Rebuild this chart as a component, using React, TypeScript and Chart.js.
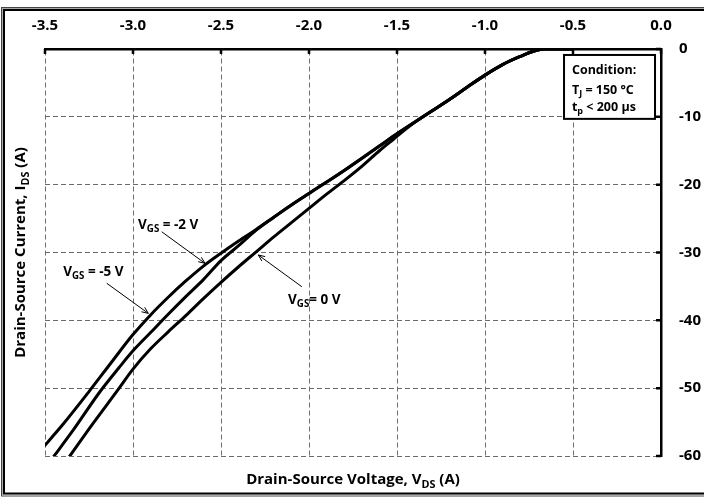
import React, { useEffect, useRef } from "react";
import { Chart, registerables } from "chart.js";

Chart.register(...registerables);

const FONT = '"Open Sans", "Liberation Sans", sans-serif';

// ---- axis ticks ----
const xTickValues = [-3.5, -3.0, -2.5, -2.0, -1.5, -1.0, -0.5, 0.0];
const yTickValues = [0, -10, -20, -30, -40, -50, -60];

// ---- series: V_GS = -5 V ----
const vgsM5X = [-3.52, -3.4, -3.25, -3.12, -3.0, -2.9, -2.8, -2.7, -2.6, -2.5, -2.4, -2.3, -2.2, -2.1, -2.0, -1.8, -1.6, -1.5, -1.4, -1.3, -1.2, -1.1, -1.0, -0.9, -0.8, -0.72, -0.66, -0.5];
const vgsM5Y = [-59.0, -55.4, -50.5, -46.1, -42.1, -39.2, -36.6, -34.2, -32.0, -30.1, -28.3, -26.6, -24.8, -23.0, -21.3, -17.9, -14.3, -12.5, -10.8, -9.1, -7.4, -5.6, -3.85, -2.3, -1.1, -0.3, 0, 0];

// ---- series: V_GS = -2 V ----
const vgsM2X = [-3.46, -3.34, -3.19, -3.08, -3.0, -2.9, -2.8, -2.7, -2.6, -2.5, -2.4, -2.3, -2.2, -2.1, -2.0, -1.8, -1.6, -1.5, -1.4, -1.3, -1.2, -1.1, -1.0, -0.9, -0.8, -0.72, -0.66, -0.5];
const vgsM2Y = [-60.4, -56.2, -50.6, -47.0, -44.5, -41.8, -39.1, -36.5, -34.0, -31.2, -29.0, -26.7, -24.8, -23.0, -21.3, -17.9, -14.3, -12.5, -10.8, -9.1, -7.4, -5.6, -3.85, -2.3, -1.1, -0.3, 0, 0];

// ---- series: V_GS = 0 V ----
const vgs0X = [-3.37, -3.23, -3.09, -3.0, -2.9, -2.8, -2.7, -2.6, -2.5, -2.4, -2.3, -2.2, -2.1, -2.0, -1.9, -1.8, -1.7, -1.6, -1.52, -1.45, -1.4, -1.3, -1.2, -1.1, -1.0, -0.9, -0.8, -0.72, -0.66, -0.5];
const vgs0Y = [-60.4, -55.3, -50.4, -47.2, -44.2, -41.7, -39.3, -36.8, -34.4, -32.1, -29.9, -27.7, -25.6, -23.5, -21.4, -19.4, -17.3, -15.0, -13.3, -11.8, -10.8, -9.1, -7.4, -5.6, -3.85, -2.3, -1.1, -0.3, 0, 0];

// ---- annotations (data coordinates) ----
const labelTexts = [
  { main: "V", sub: "GS", rest: " = -2 V" },
  { main: "V", sub: "GS", rest: " = -5 V" },
  { main: "V", sub: "GS", rest: "= 0 V" },
];
const labelX = [-2.8, -3.225, -1.97];
const labelY = [-25.95, -32.9, -37.0];
const arrowFromX = [-2.837, -3.149, -2.041];
const arrowFromY = [-26.94, -34.54, -35.04];
const arrowToX = [-2.591, -2.913, -2.288];
const arrowToY = [-31.59, -38.97, -30.37];

const boxX = [-0.551, -0.034];
const boxY = [-0.88, -10.3];
const boxTextX = -0.506;
const boxLineY = [-3.1, -6.04, -8.65];

const xTitle = { main: "Drain-Source Voltage, V", sub: "DS", rest: " (A)" };
const yTitle = { main: "Drain-Source Current, I", sub: "DS", rest: " (A)" };

type Runs = { main: string; sub: string; rest: string };

function zip(xs: number[], ys: number[]) {
  return xs.map((x, i) => ({ x, y: ys[i] }));
}

function drawRuns(ctx: CanvasRenderingContext2D, r: Runs, x: number, y: number, size: number, align: "left" | "center") {
  const subSize = size * 0.72;
  const parts: [string, boolean][] = [
    [r.main, false],
    [r.sub, true],
    [r.rest, false],
  ];
  let w = 0;
  for (const [t, s] of parts) {
    ctx.font = `bold ${s ? subSize : size}px ${FONT}`;
    w += ctx.measureText(t).width;
  }
  let cx = align === "center" ? x - w / 2 : x;
  ctx.textAlign = "left";
  ctx.textBaseline = "middle";
  ctx.fillStyle = "#000";
  for (const [t, s] of parts) {
    ctx.font = `bold ${s ? subSize : size}px ${FONT}`;
    ctx.fillText(t, cx, y + (s ? size * 0.3 : 0));
    cx += ctx.measureText(t).width;
  }
}

const decorPlugin = {
  id: "decor",
  afterDraw(chart: any) {
    const ctx: CanvasRenderingContext2D = chart.ctx;
    const xs = chart.scales.x;
    const ys = chart.scales.y;
    const ca = chart.chartArea;
    ctx.save();

    // inward tick marks
    ctx.strokeStyle = "#000";
    ctx.lineWidth = 2.5;
    ctx.beginPath();
    for (const v of xTickValues) {
      const px = xs.getPixelForValue(v);
      ctx.moveTo(px, ca.top);
      ctx.lineTo(px, ca.top + 5);
    }
    for (const v of yTickValues) {
      const py = ys.getPixelForValue(v);
      ctx.moveTo(ca.right, py);
      ctx.lineTo(ca.right - 5, py);
    }
    ctx.stroke();

    // arrows
    ctx.lineWidth = 1;
    ctx.strokeStyle = "#000";
    for (let i = 0; i < arrowFromX.length; i++) {
      const x1 = xs.getPixelForValue(arrowFromX[i]);
      const y1 = ys.getPixelForValue(arrowFromY[i]);
      const x2 = xs.getPixelForValue(arrowToX[i]);
      const y2 = ys.getPixelForValue(arrowToY[i]);
      const a = Math.atan2(y2 - y1, x2 - x1);
      ctx.beginPath();
      ctx.moveTo(x1, y1);
      ctx.lineTo(x2, y2);
      ctx.moveTo(x2 - 7 * Math.cos(a - 0.4), y2 - 7 * Math.sin(a - 0.4));
      ctx.lineTo(x2, y2);
      ctx.lineTo(x2 - 7 * Math.cos(a + 0.4), y2 - 7 * Math.sin(a + 0.4));
      ctx.stroke();
    }

    // labels
    for (let i = 0; i < labelTexts.length; i++) {
      drawRuns(ctx, labelTexts[i], xs.getPixelForValue(labelX[i]), ys.getPixelForValue(labelY[i]), 13.5, "center");
    }

    // condition box
    const bx1 = xs.getPixelForValue(boxX[0]);
    const bx2 = xs.getPixelForValue(boxX[1]);
    const by1 = ys.getPixelForValue(boxY[0]);
    const by2 = ys.getPixelForValue(boxY[1]);
    ctx.fillStyle = "#fff";
    ctx.fillRect(bx1, by1, bx2 - bx1, by2 - by1);
    ctx.lineWidth = 2;
    ctx.strokeStyle = "#000";
    ctx.strokeRect(bx1, by1, bx2 - bx1, by2 - by1);
    const tx = xs.getPixelForValue(boxTextX);
    ctx.fillStyle = "#000";
    ctx.font = `bold 12.5px ${FONT}`;
    ctx.textAlign = "left";
    ctx.textBaseline = "middle";
    ctx.fillText("Condition:", tx, ys.getPixelForValue(boxLineY[0]));
    drawRuns(ctx, { main: "T", sub: "J", rest: " = 150 °C" }, tx, ys.getPixelForValue(boxLineY[1]), 12.5, "left");
    drawRuns(ctx, { main: "t", sub: "p", rest: " < 200 µs" }, tx, ys.getPixelForValue(boxLineY[2]), 12.5, "left");

    // axis titles
    drawRuns(ctx, xTitle, (ca.left + ca.right) / 2, ca.bottom + 24, 15, "center");
    ctx.save();
    ctx.translate(ca.left - 24, (ca.top + ca.bottom) / 2);
    ctx.rotate(-Math.PI / 2);
    drawRuns(ctx, yTitle, 0, 0, 15, "center");
    ctx.restore();

    // outer frame
    const W = chart.width;
    const H = chart.height;
    ctx.lineWidth = 1;
    ctx.strokeStyle = "#444";
    ctx.strokeRect(1.5, 7.5, W + 10, H - 8.5);
    ctx.strokeStyle = "#aaa";
    ctx.strokeRect(2.5, 8.5, W + 10, H - 10.5);
    ctx.lineWidth = 2;
    ctx.strokeStyle = "#000";
    ctx.strokeRect(4, 10, W + 10, H - 13.5);
    ctx.restore();
  },
};

export default function App() {
  const ref = useRef<HTMLCanvasElement>(null);
  useEffect(() => {
    document.body.style.margin = "0";
    const canvas = ref.current!;
    const line = (xs: number[], ys: number[]) => ({
      data: zip(xs, ys),
      borderColor: "#000",
      borderWidth: 3,
      pointRadius: 0,
      fill: false,
      cubicInterpolationMode: "monotone" as const,
    });
    const chart = new Chart(canvas, {
      type: "line",
      data: {
        datasets: [
          { label: "VGS = -5 V", ...line(vgsM5X, vgsM5Y) },
          { label: "VGS = -2 V", ...line(vgsM2X, vgsM2Y) },
          { label: "VGS = 0 V", ...line(vgs0X, vgs0Y) },
        ],
      },
      options: {
        animation: false,
        responsive: false,
        maintainAspectRatio: false,
        layout: { padding: { left: 45, top: 0, right: 0, bottom: 41 } },
        plugins: { legend: { display: false }, tooltip: { enabled: false }, title: { display: false } },
        scales: {
          x: {
            type: "linear",
            position: "top",
            min: -3.5,
            max: 0,
            afterBuildTicks: (s: any) => {
              s.ticks = xTickValues.map((v) => ({ value: v }));
            },
            afterFit: (s: any) => {
              s.height = 49;
            },
            grid: { color: "#6b6b6b", lineWidth: 1, drawTicks: false },
            border: { display: true, color: "#000", width: 2.5, dash: [5, 3] },
            ticks: {
              color: "#000",
              font: { family: FONT, size: 15, weight: "bold" },
              padding: 14,
              maxRotation: 0,
              autoSkip: false,
              callback: (v: any) => Number(v).toFixed(1),
            },
          },
          y: {
            type: "linear",
            position: "right",
            min: -60,
            max: 0,
            afterBuildTicks: (s: any) => {
              s.ticks = yTickValues.map((v) => ({ value: v }));
            },
            afterFit: (s: any) => {
              s.width = 43;
            },
            grid: { color: "#6b6b6b", lineWidth: 1, drawTicks: false },
            border: { display: true, color: "#000", width: 2.5, dash: [5, 3] },
            ticks: {
              color: "#000",
              font: { family: FONT, size: 15, weight: "bold" },
              padding: 18,
              autoSkip: false,
              callback: (v: any) => String(v),
            },
          },
        },
      },
      plugins: [decorPlugin],
    } as any);
    return () => chart.destroy();
  }, []);
  return (
    <div style={{ width: 704, height: 497 }}>
      <canvas ref={ref} width={704} height={497} style={{ display: "block" }} />
    </div>
  );
}
